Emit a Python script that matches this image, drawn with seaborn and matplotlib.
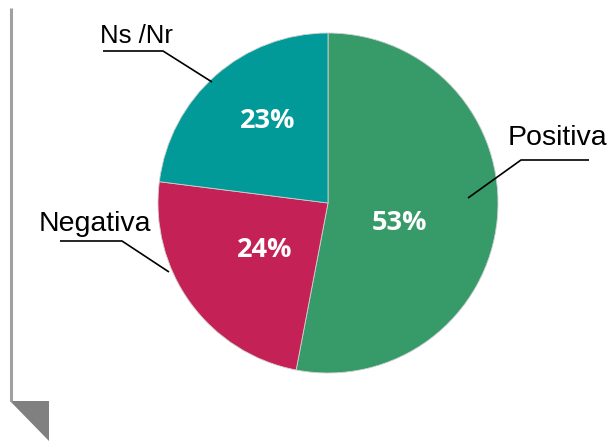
import matplotlib
matplotlib.use("Agg")
import matplotlib.pyplot as plt
import seaborn as sns
from matplotlib.patches import Polygon

categories = ["Positiva", "Negativa", "Ns /Nr"]
values = [53, 24, 23]
colors = ["#379A69", "#C42257", "#029A98"]

sns.set_theme(style="white")
plt.rcParams['font.family'] = ['Liberation Sans', 'DejaVu Sans']

W, H = 613, 441
fig = plt.figure(figsize=(W / 100, H / 100), dpi=100)
ax = fig.add_axes([0, 0, 1, 1])

def P(y):
    return H - y

cx, cy, r = 328, 203, 170
ax.pie(values, colors=colors, startangle=90, counterclock=False,
       center=(cx, P(cy)), radius=r, frame=True,
       wedgeprops=dict(linewidth=0.6, edgecolor="#d0d0d0"))
ax.set_xlim(0, W)
ax.set_ylim(0, H)
ax.set_aspect('equal')
ax.axis('off')

# percentage labels
pct_pos = [(399, 230), (265, 257), (268, 128)]
for v, (x, y) in zip(values, pct_pos):
    ax.text(x, P(y), f"{v}%", ha='center', va='baseline', color='white',
            fontsize=19.5, fontweight='bold', family=['Open Sans', 'DejaVu Sans'])

# outer labels with leader lines
lab_pos = [(508, 145, 20.5), (39, 231, 20.5), (100, 43, 18.5)]
leaders = [
    [(589, 160), (521, 160), (468, 198)],
    [(60, 241), (122, 241), (169, 272)],
    [(103, 51), (163, 51), (212, 82)],
]
for name, (x, y, fs), pts in zip(categories, lab_pos, leaders):
    ax.text(x, P(y), name, ha='left', va='baseline', color='black', fontsize=fs)
    xs = [p[0] for p in pts]
    ys = [P(p[1]) for p in pts]
    ax.plot(xs, ys, color='black', linewidth=1.2, solid_capstyle='butt')

# decorative left wall
ax.plot([10.5, 10.5], [P(8), P(401)], color='#A0A0A0', linewidth=2.2,
        solid_capstyle='butt')
ax.add_patch(Polygon([(10, P(401)), (49, P(401)), (49, P(441))],
                     closed=True, facecolor='#808080', edgecolor='none'))

fig.savefig("out.png", dpi=100)
